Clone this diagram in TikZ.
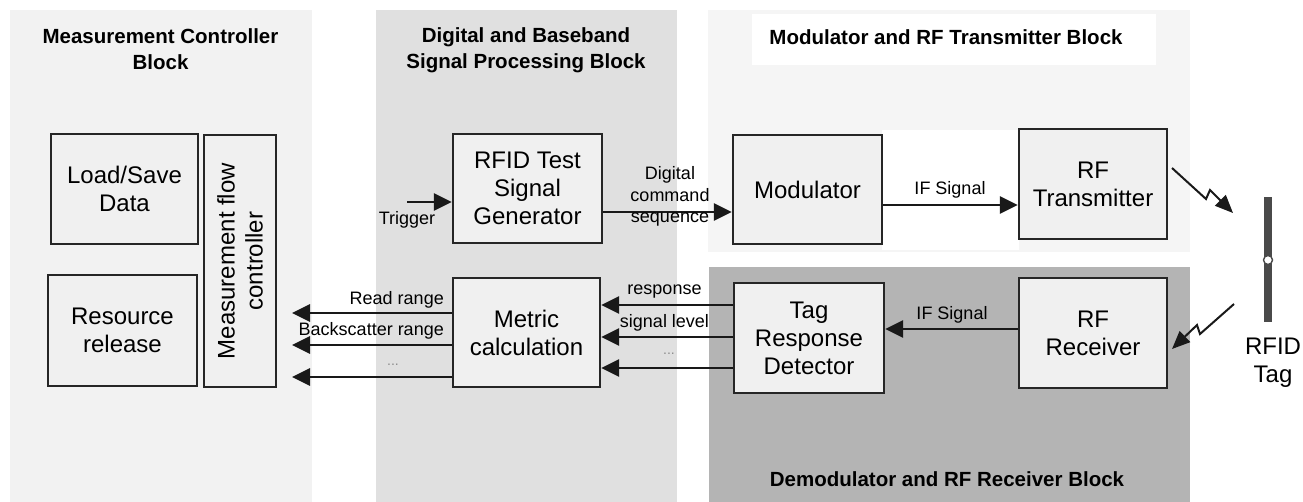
\documentclass[tikz,border=0pt]{standalone}
\usepackage{fontspec}
\setmainfont{Liberation Sans}
\usetikzlibrary{arrows.meta}

\definecolor{ctrlbg}{HTML}{F2F2F2}
\definecolor{dspbg}{HTML}{E0E0E0}
\definecolor{txbg}{HTML}{F5F5F5}
\definecolor{rxbg}{HTML}{B4B4B4}
\definecolor{boxfill}{HTML}{F0F0F0}
\definecolor{antenna}{HTML}{4A4A4A}

\begin{document}
\begin{tikzpicture}[x=1pt,y=-1pt,
  blk/.style={draw=black!85, line width=2.4pt, fill=boxfill, align=center,
    inner sep=0pt, font=\fontsize{24}{28}\selectfont},
  title/.style={font=\fontsize{20.5}{26}\selectfont\bfseries, align=center, inner sep=0pt},
  lbl/.style={font=\fontsize{18}{21.5}\selectfont, align=center, inner sep=0pt},
  dots/.style={font=\fontsize{14}{16}\selectfont, text=black!45, inner sep=0pt},
  arr/.style={line width=2.7pt, draw=black!90, -{Triangle[length=18pt,width=17pt]}},
  bolt/.style={line width=2pt, draw=black!90, line join=miter, -{Triangle[length=18pt,width=15pt]}}
]
\useasboundingbox (0,0) rectangle (1303,502);
\fill[white] (0,0) rectangle (1303,502);

% block backgrounds
\fill[ctrlbg] (10,10) rectangle (312,502);
\fill[dspbg] (376,10) rectangle (677,502);
\fill[txbg] (708,10) rectangle (1190,252);
\fill[white] (752,14) rectangle (1156,65);
\fill[white] (882,130) rectangle (1019,250);
\fill[rxbg] (709,267) rectangle (1190,502);

% block titles
\node[title] (t1) at (160.5,49) {Measurement Controller\\Block};
\node[title] (t2) at (526,50) {Digital and Baseband\\Signal Processing Block};
\node[title] (t3) at (946,37) {Modulator and RF Transmitter Block};
\node[title] (t4) at (947,479) {Demodulator and RF Receiver Block};

% functional boxes
\node[blk, minimum width=147, minimum height=110] (load) at (124.5,189) {Load/Save\\Data};
\node[blk, minimum width=72, minimum height=252] (flow) at (240,261) {};
\node[rotate=90, align=center, inner sep=0pt, font=\fontsize{24}{28}\selectfont] (flowtxt) at (flow.center) {Measurement flow\\controller};
\node[blk, minimum width=149, minimum height=111] (res) at (122.5,330.5) {Resource\\release};
\node[blk, minimum width=149, minimum height=109] (gen) at (527.5,188.5) {RFID Test\\Signal\\Generator};
\node[blk, minimum width=147, minimum height=109] (metric) at (526.5,332.5) {Metric\\calculation};
\node[blk, minimum width=149, minimum height=109] (mod) at (807.5,189.5) {Modulator};
\node[blk, minimum width=148, minimum height=110] (tx) at (1093,184) {RF\\Transmitter};
\node[blk, minimum width=150, minimum height=110] (det) at (809,338) {Tag\\Response\\Detector};
\node[blk, minimum width=148, minimum height=110] (rx) at (1093,333) {RF\\Receiver};

% trigger input and transmit chain
\coordinate (trig) at (407,202);
\draw[arr] (trig) -- (trig -| gen.west);
\node[lbl] (triglbl) at (407,220) {Trigger};

\coordinate (dc) at (660,212);
\draw[arr] (dc -| gen.east) -- (dc -| mod.west);
\node[lbl] (dclbl) at (670,196.5) {Digital\\command\\sequence};

\coordinate (ift) at (950,205);
\draw[arr] (ift -| mod.east) -- (ift -| tx.west);
\node[lbl] (iftlbl) at (950,190) {IF Signal};

% receive chain
\coordinate (ifr) at (950,329);
\draw[arr] (ifr -| rx.west) -- (ifr -| det.east);
\node[lbl] (ifrlbl) at (952,315) {IF Signal};

\coordinate (r1) at (667,305);
\coordinate (r2) at (667,337);
\coordinate (r3) at (667,368);
\draw[arr] (r1 -| det.west) -- (r1 -| metric.east);
\draw[arr] (r2 -| det.west) -- (r2 -| metric.east);
\draw[arr] (r3 -| det.west) -- (r3 -| metric.east);
\node[lbl] (resplbl) at (664.5,292) {response};
\node[lbl] (siglbl) at (664.5,323) {signal level};
\node[dots] (dots1) at (669,354) {...};

% metric outputs to the measurement flow controller
\coordinate (m1) at (292,313);
\coordinate (m2) at (292,345);
\coordinate (m3) at (292,377);
\draw[arr] (m1 -| metric.west) -- (m1);
\draw[arr] (m2 -| metric.west) -- (m2);
\draw[arr] (m3 -| metric.west) -- (m3);
\node[lbl, anchor=east] (readlbl) at (444,300) {Read range};
\node[lbl, anchor=east] (bslbl) at (444,331) {Backscatter range};
\node[dots] (dots2) at (393,365) {...};

% RFID tag antenna
\fill[antenna] (1264,197) rectangle (1272,322);
\node[circle, draw=antenna, fill=white, line width=1.4pt, minimum size=9pt, inner sep=0pt] (tagpt) at (1268,260) {};
\node[align=center, inner sep=0pt, font=\fontsize{24}{28}\selectfont] (tag) at (1273,363) {RFID\\Tag};

% wireless links
\coordinate (txa) at (1172,168);
\coordinate (txb) at (1206,199);
\coordinate (txc) at (1210,190);
\coordinate (txd) at (1233,213);
\draw[bolt] (txa) -- (txb) -- (txc) -- (txd);
\coordinate (rxa) at (1234,304);
\coordinate (rxb) at (1200,334);
\coordinate (rxc) at (1197,325);
\coordinate (rxd) at (1172,349);
\draw[bolt] (rxa) -- (rxb) -- (rxc) -- (rxd);
\end{tikzpicture}
\end{document}
